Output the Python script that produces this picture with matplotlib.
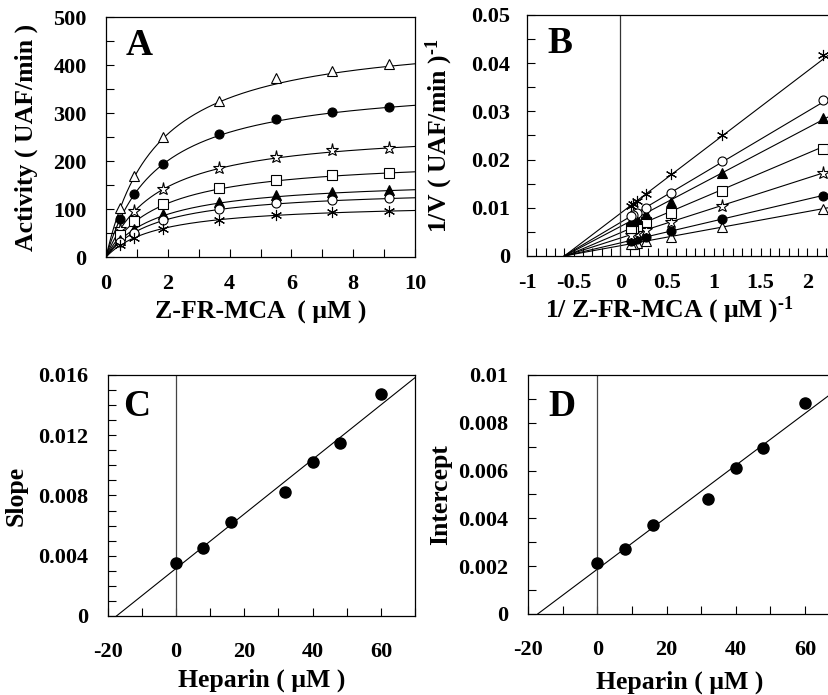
import numpy as np
import matplotlib.pyplot as plt
from matplotlib.ticker import MultipleLocator

plt.rcParams['font.family'] = 'Liberation Serif'
plt.rcParams['font.weight'] = 'bold'
plt.rcParams['axes.labelweight'] = 'bold'
plt.rcParams['mathtext.fontset'] = 'custom'
plt.rcParams['mathtext.rm'] = 'Liberation Serif:bold'
plt.rcParams['mathtext.default'] = 'rm'
plt.rcParams['axes.unicode_minus'] = False

# Data
substrate = [0.46, 0.92, 1.83, 3.66, 5.49, 7.32, 9.15]   # Z-FR-MCA (uM)
heparin = [0, 8, 16, 32, 40, 48, 60]                      # uM
# activity (UAF/min), one row per heparin concentration
activity = [
    [103, 169, 251, 326, 373, 387, 403],
    [80, 131, 194, 256, 287, 303, 313],
    [58, 96, 141, 185, 209, 223, 228],
    [45, 74, 111, 144, 160, 171, 175],
    [35, 58, 90, 115, 129, 136, 139],
    [31, 51, 77, 100, 113, 118, 122],
    [24, 40, 59, 78, 87, 93, 96],
]
slopes = [0.00354, 0.00454, 0.00622, 0.00823, 0.01022, 0.01151, 0.01474]
intercepts = [0.00213, 0.00271, 0.00372, 0.00481, 0.00611, 0.00695, 0.00884]

a_yticks = [0, 100, 200, 300, 400, 500]
a_xticks = [0, 2, 4, 6, 8, 10]
b_xticks = [-1, -0.5, 0, 0.5, 1, 1.5, 2]
b_xlabels = ['-1', '-0.5', '0', '0.5', '1', '1.5', '2']
b_yticks = [0, 0.01, 0.02, 0.03, 0.04, 0.05]
b_ylabels = ['0', '0.01', '0.02', '0.03', '0.04', '0.05']
cd_xticks = [-20, 0, 20, 40, 60]
c_yticks = [0, 0.004, 0.008, 0.012, 0.016]
c_ylabels = ['0', '0.004', '0.008', '0.012', '0.016']
d_yticks = [0, 0.002, 0.004, 0.006, 0.008, 0.01]
d_ylabels = ['0', '0.002', '0.004', '0.006', '0.008', '0.01']

# marker style for each heparin series
asterisk = (6, 2, 0)
styles = [
    dict(marker='^', mfc='white', ms=7),
    dict(marker='o', mfc='black', ms=6.5),
    dict(marker='*', mfc='white', ms=9.5),
    dict(marker='s', mfc='white', ms=6.5),
    dict(marker='^', mfc='black', ms=7),
    dict(marker='o', mfc='white', ms=6.5),
    dict(marker=asterisk, mfc='black', ms=8),
]

fig = plt.figure(figsize=(8.29, 6.95), dpi=100)
axA = fig.add_axes([0.1279, 0.6302, 0.3727, 0.3453])
axB = fig.add_axes([0.6357, 0.6317, 0.3944, 0.3468])
axC = fig.add_axes([0.1299, 0.1137, 0.3708, 0.3468])
axD = fig.add_axes([0.6369, 0.1166, 0.3760, 0.3439])


def style_axis(ax, xpad, ypad):
    for sp in ax.spines.values():
        sp.set_linewidth(0.9)
    ax.tick_params(which='both', direction='in', top=False, right=False,
                   width=0.8, labelsize=16)
    ax.tick_params(which='major', length=5.5)
    ax.tick_params(which='minor', length=5.5)
    ax.tick_params(axis='x', which='major', pad=xpad)
    ax.tick_params(axis='y', which='major', pad=ypad)


# A: Michaelis-Menten curves
xs = np.linspace(0, 10, 300)
for i in range(len(heparin)):
    axA.plot(xs, xs / (slopes[i] + intercepts[i] * xs), color='black', lw=0.8)
    axA.plot(substrate, activity[i], ls='none', color='black', mec='black',
             mew=0.8, zorder=3, **styles[i])
axA.set_xlim(0, 10)
axA.set_ylim(0, 500)
axA.set_xticks(a_xticks)
axA.set_yticks(a_yticks)
axA.xaxis.set_minor_locator(MultipleLocator(1))
axA.yaxis.set_minor_locator(MultipleLocator(50))
style_axis(axA, 12, 14)
axA.set_xlabel('Z-FR-MCA  ( μM )', fontsize=18.5)
axA.set_ylabel('Activity ( UAF/min )', fontsize=18.5)
axA.xaxis.set_label_coords(0.5, -0.183)
axA.yaxis.set_label_coords(-0.22, 0.5)
axA.text(0.065, 0.955, 'A', transform=axA.transAxes, fontsize=27,
         va='top', ha='left')

# B: Lineweaver-Burk
inv_s = 1 / np.array(substrate)
for i in range(len(heparin)):
    x0 = -intercepts[i] / slopes[i]
    xx = np.array([x0, 2.5])
    axB.plot(xx, slopes[i] * xx + intercepts[i], color='black', lw=0.8)
    axB.plot(inv_s, 1 / np.array(activity[i]), ls='none', color='black',
             mec='black', mew=0.8, zorder=3, **styles[i])
axB.axvline(0, color='#333333', lw=0.9)
axB.set_xlim(-1, 2.5)
axB.set_ylim(0, 0.05)
axB.set_xticks(b_xticks, b_xlabels)
axB.set_yticks(b_yticks, b_ylabels)
axB.xaxis.set_minor_locator(MultipleLocator(0.1))
axB.yaxis.set_minor_locator(MultipleLocator(0.005))
style_axis(axB, 12, 12)
axB.set_xlabel('1/ Z-FR-MCA ( μM )$^{\u2010 1}$', fontsize=18.5)
axB.set_ylabel('1/V ( UAF/min )$^{\u2010 1}$', fontsize=18.5)
axB.xaxis.set_label_coords(0.436, -0.16)
axB.yaxis.set_label_coords(-0.22, 0.5)
axB.text(0.064, 0.955, 'B', transform=axB.transAxes, fontsize=27,
         va='top', ha='left')

# C and D: replots
hx = np.array(heparin)
for ax, vals, yt, yl, lab, letter in [
        (axC, slopes, c_yticks, c_ylabels, 'Slope', 'C'),
        (axD, intercepts, d_yticks, d_ylabels, 'Intercept', 'D')]:
    m, b = np.polyfit(hx, vals, 1)
    xx = np.array([-b / m, 70])
    ax.plot(xx, m * xx + b, color='black', lw=0.8)
    ax.plot(hx, vals, 'o', color='black', ms=8, zorder=3)
    ax.axvline(0, color='#444444', lw=0.9)
    ax.set_xlim(-20, 70)
    ax.set_ylim(0, yt[-1])
    ax.set_xticks(cd_xticks)
    ax.set_yticks(yt, yl)
    ax.xaxis.set_minor_locator(MultipleLocator(10))
    ax.yaxis.set_minor_locator(MultipleLocator(0.001))
    style_axis(ax, 19, 14)
    ax.set_xlabel('Heparin ( μM )', fontsize=18.5)
    ax.set_ylabel(lab, fontsize=18.5)
    ax.text(0.05, 0.94, letter, transform=ax.transAxes, fontsize=27,
            va='top', ha='left')

axC.xaxis.set_label_coords(0.5, -0.22)
axC.yaxis.set_label_coords(-0.26, 0.5)
axD.xaxis.set_label_coords(0.487, -0.235)
axD.yaxis.set_label_coords(-0.244, 0.5)
axD.texts[0].set_x(0.064)

fig.savefig('out.png', dpi=100)
